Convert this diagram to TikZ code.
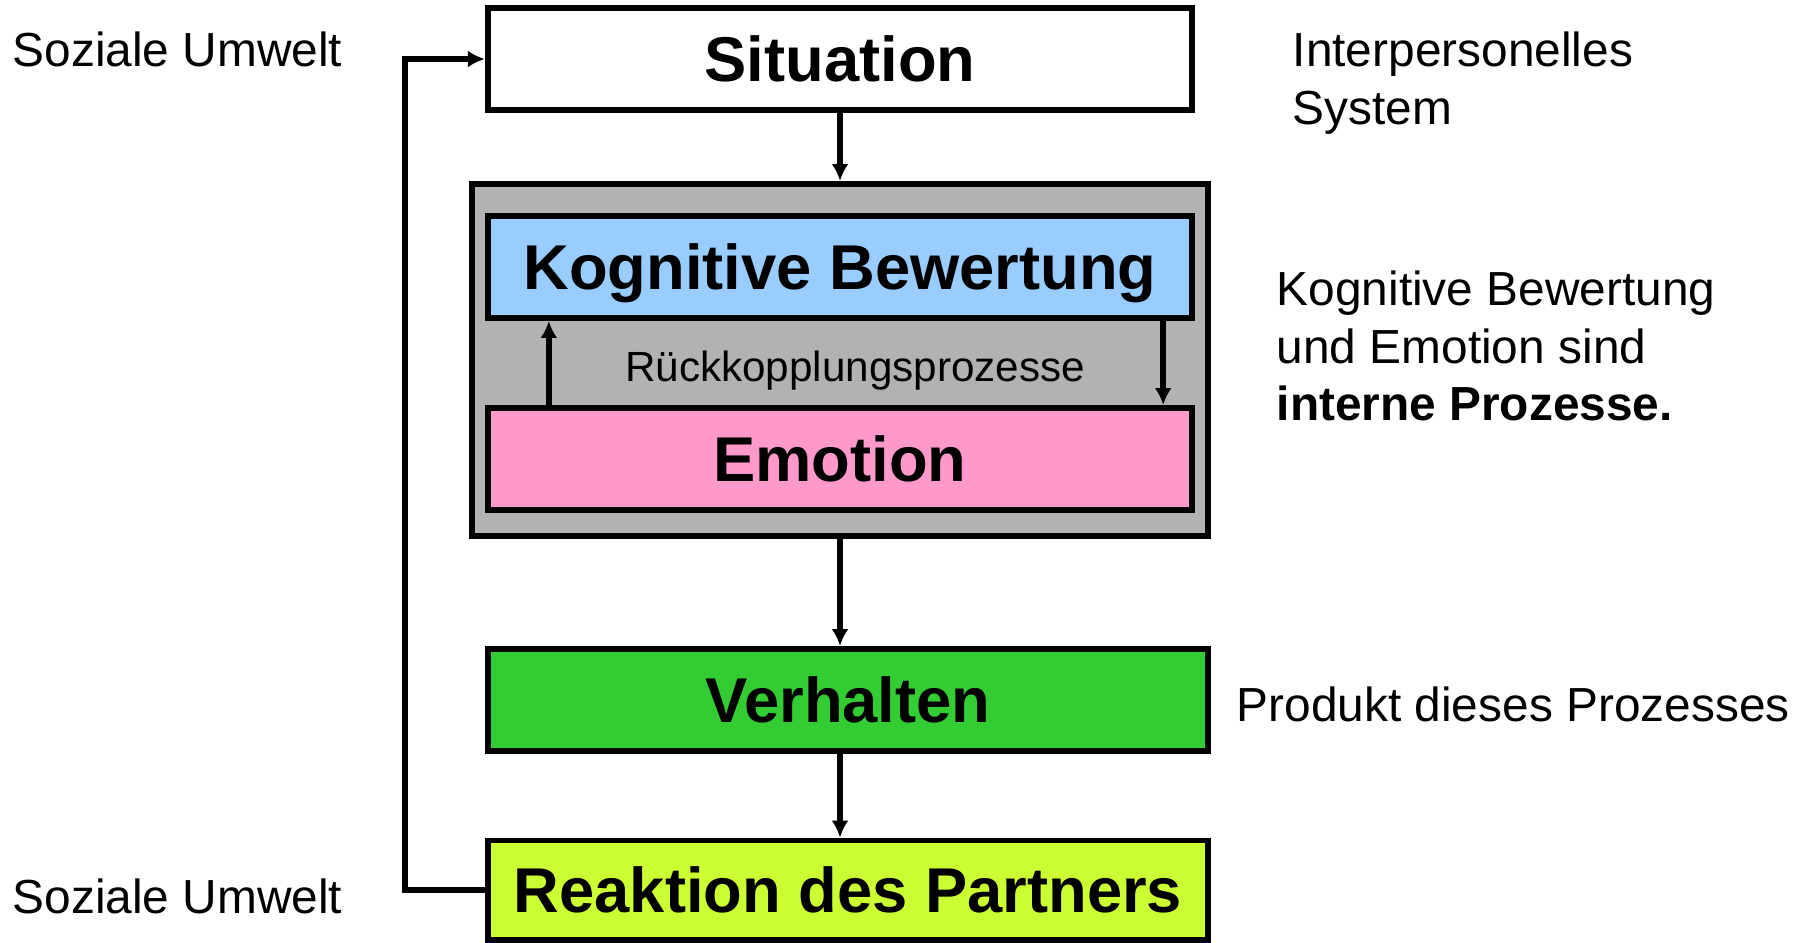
\documentclass[tikz,border=0pt]{standalone}
\usepackage{fontspec}
\setmainfont{Liberation Sans}
\usetikzlibrary{arrows.meta}

\definecolor{kogblue}{HTML}{99CCFF}
\definecolor{emopink}{HTML}{FF99CC}
\definecolor{verhgreen}{HTML}{33CC33}
\definecolor{reaklime}{HTML}{CCFF33}
\definecolor{procgray}{HTML}{B2B2B2}

\begin{document}
\begin{tikzpicture}[x=0.01cm,y=-0.01cm,
  box/.style={draw, line width=1.7pt, inner sep=0pt, minimum height=1.02cm,
    text depth=0pt, font=\fontsize{18}{21}\selectfont\bfseries},
  note/.style={inner sep=0pt, anchor=west, align=left,
    font=\fontsize{13.6}{16.4}\selectfont},
  flow/.style={line width=1.6pt, -{Latex[length=4.8pt,width=4.8pt]}}]
  \useasboundingbox (0,0) rectangle (1804,942);

  % --- main boxes ---
  \node[box, fill=white, minimum width=7.04cm] (sit) at (840,59) {Situation};
  \node[draw, line width=1.7pt, fill=procgray, minimum width=7.36cm,
    minimum height=3.52cm] (proc) at (840,360) {};
  \node[box, fill=kogblue, minimum width=7.04cm] (kog) at (840,267) {Kognitive Bewertung};
  \node[box, fill=emopink, minimum width=7.04cm] (emo) at (840,459) {Emotion};
  \node[box, fill=verhgreen, minimum width=7.20cm] (verh) at (848,700) {Verhalten};
  \node[box, fill=reaklime, minimum width=7.20cm, minimum height=0.99cm]
    (reak) at (848,890) {Reaktion des Partners};

  \node[font=\fontsize{12}{14}\selectfont] (rueck) at (855,371) {Rückkopplungsprozesse};

  % --- side notes ---
  \node[note] (umw1) at (12,49) {Soziale Umwelt};
  \node[note] (umw2) at (12,896) {Soziale Umwelt};
  \node[note] (inter) at (1292,83) {Interpersonelles\\System};
  \node[note] (intern) at (1276,346) {Kognitive Bewertung\\und Emotion sind\\\textbf{interne Prozesse.}};
  \node[note] (prod) at (1236,704) {Produkt dieses Prozesses};

  % --- connectors ---
  \draw[flow] (sit.south) -- (proc.north);
  \draw[flow] (proc.south) -- (proc.south |- verh.north);
  \draw[flow] (proc.south |- verh.south) -- (proc.south |- reak.north);
  \draw[flow] ([xshift=0.64cm]emo.north west) -- ([xshift=0.64cm]kog.south west);
  \draw[flow] ([xshift=-0.32cm]kog.south east) -- ([xshift=-0.32cm]emo.north east);
  \draw[flow] (reak.west) -- ++(-80,0) |- (sit.west);
\end{tikzpicture}
\end{document}
